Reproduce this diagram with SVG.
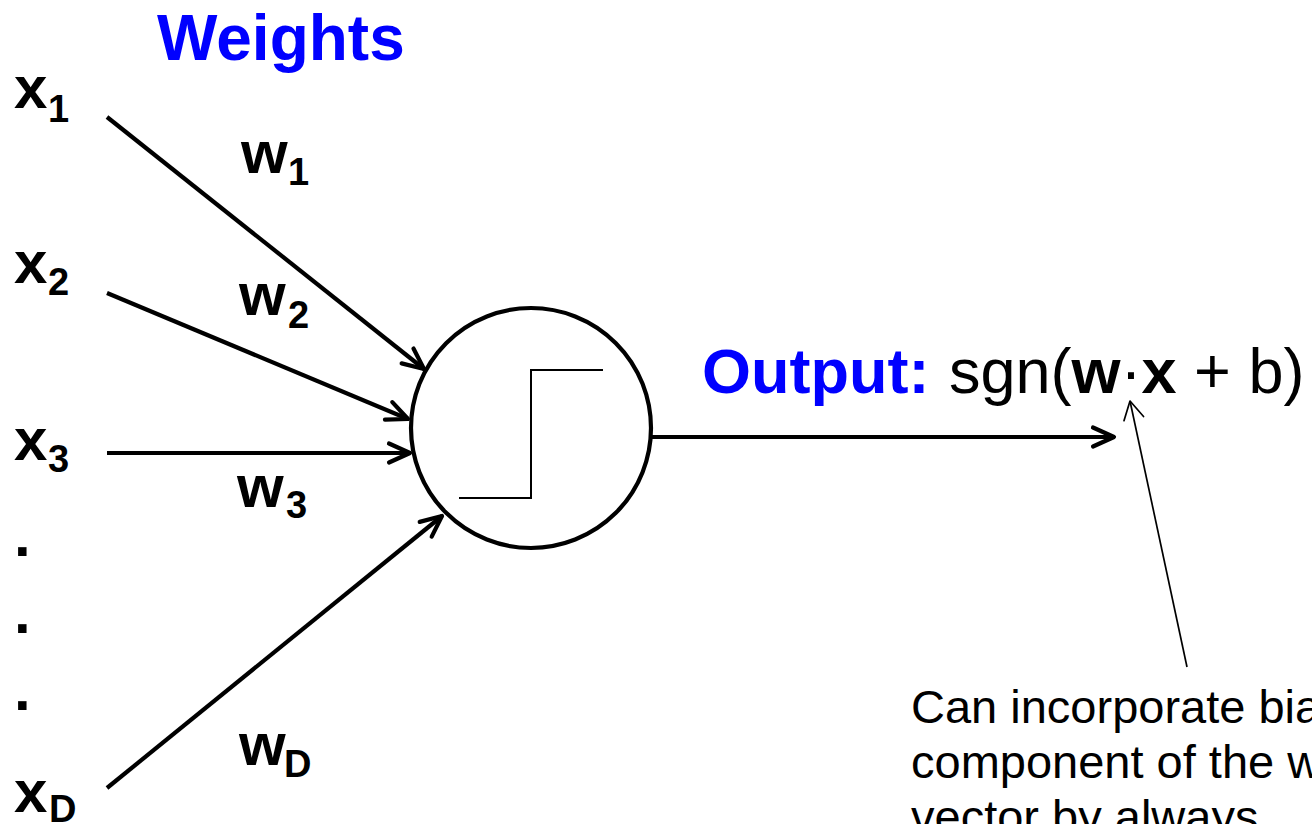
<svg xmlns="http://www.w3.org/2000/svg" width="1312" height="824" viewBox="0 0 1312 824">
<style>
text{font-family:"Liberation Sans",Arial,sans-serif;fill:#000}
.b{font-weight:bold}
.blue{fill:#0000ff;font-weight:bold}
.v{font-size:60px;font-weight:bold}
.s{font-size:38px;font-weight:bold}
.e{stroke:#000;stroke-width:4.2;fill:none}
.thin{stroke:#000;stroke-width:1.7;fill:none}
</style>
<defs>
<marker id="ah" markerUnits="userSpaceOnUse" viewBox="-26 -14 30 28" markerWidth="30" markerHeight="28" refX="0" refY="0" orient="auto">
<path d="M-21,-9.5 L0,0 L-21,9.5" fill="none" stroke="#000" stroke-width="4.2" stroke-linecap="round" stroke-linejoin="round"/>
</marker>
<marker id="ah2" markerUnits="userSpaceOnUse" viewBox="-22 -14 26 28" markerWidth="26" markerHeight="28" refX="0" refY="0" orient="auto">
<path d="M-18,-10 L0,0 L-18,10" fill="none" stroke="#000" stroke-width="1.7" stroke-linecap="round" stroke-linejoin="round"/>
</marker>
</defs>
<rect width="1312" height="824" fill="#fff"/>
<text id="weights" class="blue" x="157" y="60" font-size="64">Weights</text>
<g id="x1"><text class="v" x="14" y="108">x</text><text class="s" x="48" y="122">1</text></g>
<g id="x2"><text class="v" x="14" y="283">x</text><text class="s" x="48" y="295">2</text></g>
<g id="x3"><text class="v" x="14" y="460">x</text><text class="s" x="48" y="472">3</text></g>
<g id="dots"><text class="v" x="14" y="556">.</text><text class="v" x="14" y="633">.</text><text class="v" x="14" y="710">.</text></g>
<g id="xD"><text class="v" x="14" y="812">x</text><text class="s" x="49" y="822">D</text></g>
<g id="w1"><text class="v" x="241" y="173">w</text><text class="s" x="288" y="185">1</text></g>
<g id="w2"><text class="v" x="239" y="315">w</text><text class="s" x="288" y="328">2</text></g>
<g id="w3"><text class="v" x="237" y="507">w</text><text class="s" x="286" y="518">3</text></g>
<g id="wD"><text class="v" x="239" y="765">w</text><text class="s" x="284" y="777">D</text></g>
<g id="neuron">
<circle cx="531" cy="428" r="120" fill="#fff" stroke="#000" stroke-width="4.2"/>
<path d="M459,498 H531 V370 H603" fill="none" stroke="#000" stroke-width="2"/>
</g>
<g id="output"><text font-size="63" x="702" y="393"><tspan class="blue">Output:</tspan><tspan x="949">sgn(</tspan><tspan class="b">w</tspan>·<tspan class="b">x</tspan> + b)</text></g>
<g id="note"><text font-size="47" x="911" y="723">Can incorporate bia</text><text font-size="47" x="911" y="778">component of the w</text><text font-size="47" x="911" y="833">vector by always</text></g>
<g id="connectors">
<line class="e" x1="107" y1="117" x2="424" y2="369" marker-end="url(#ah)"/>
<line class="e" x1="107" y1="293" x2="408" y2="419" marker-end="url(#ah)"/>
<line class="e" x1="107" y1="453" x2="410" y2="453" marker-end="url(#ah)"/>
<line class="e" x1="107" y1="788" x2="442" y2="516" marker-end="url(#ah)"/>
<line class="e" x1="652" y1="437" x2="1114" y2="437" marker-end="url(#ah)"/>
<line class="thin" x1="1187" y1="667" x2="1130" y2="401" marker-end="url(#ah2)"/>
</g>
</svg>
